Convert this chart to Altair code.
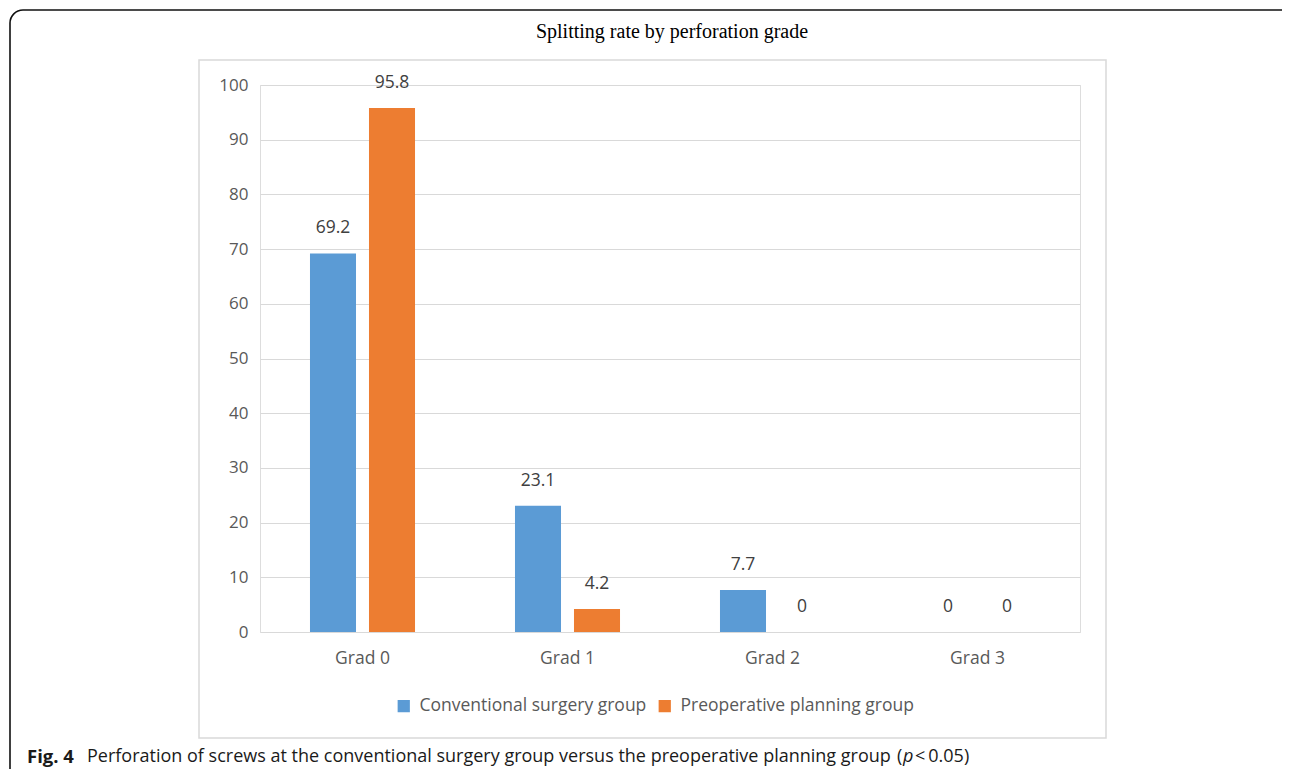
import altair as alt
import pandas as pd

categories = ["Grad 0", "Grad 1", "Grad 2", "Grad 3"]
series_names = ["Conventional surgery group", "Preoperative planning group"]
conventional = [69.2, 23.1, 7.7, 0]
planning = [95.8, 4.2, 0, 0]
colors = ["#5B9BD5", "#ED7D31"]
y_ticks = [0, 10, 20, 30, 40, 50, 60, 70, 80, 90, 100]

title_text = "Splitting rate by perforation grade"
caption_bold = "Fig. 4"
caption_main = "Perforation of screws at the conventional surgery group versus the preoperative planning group"
caption_open = "("
caption_italic = "p"
caption_tail = "<\u20090.05)"

rows = []
for c, v1, v2 in zip(categories, conventional, planning):
    rows.append({"grade": c, "group": series_names[0], "value": v1, "label": f"{v1:g}"})
    rows.append({"grade": c, "group": series_names[1], "value": v2, "label": f"{v2:g}"})
df = pd.DataFrame(rows)
dummy = pd.DataFrame({"d": [0]})

FONT = "Open Sans"
CAP_Y = 672

x_enc = alt.X("grade:N", sort=categories, title=None,
              scale=alt.Scale(paddingInner=0, paddingOuter=0),
              axis=alt.Axis(labelAngle=0, domain=False, ticks=False, labelPadding=17,
                            labelFont=FONT, labelFontSize=17.5, labelColor="#595959"))
xoff_enc = alt.XOffset("group:N", sort=series_names,
                       scale=alt.Scale(paddingInner=0.22, paddingOuter=0.847))
y_enc = alt.Y("value:Q", title=None,
              scale=alt.Scale(domain=[0, 100], nice=False),
              axis=alt.Axis(values=y_ticks, domain=False, ticks=False, labelPadding=12,
                            labelFont=FONT, labelFontSize=17, labelColor="#595959",
                            gridColor="#D9D9D9", gridWidth=1.2))

bars = alt.Chart(df).mark_bar().encode(
    x=x_enc, xOffset=xoff_enc, y=y_enc,
    color=alt.Color("group:N", sort=series_names,
                    scale=alt.Scale(domain=series_names, range=colors),
                    legend=alt.Legend(title=None, orient="none", direction="horizontal",
                                      legendX=135, legendY=612, symbolType="square",
                                      symbolSize=150, symbolStrokeWidth=0,
                                      labelFont=FONT, labelFontSize=17.5, labelColor="#595959",
                                      labelLimit=0, labelOffset=7, columnPadding=9)),
)

labels = alt.Chart(df).mark_text(dy=-25, font=FONT, fontSize=17.5, color="#404040",
                                  baseline="middle").encode(
    x=alt.X("grade:N", sort=categories), xOffset=alt.XOffset("group:N", sort=series_names),
    y=alt.Y("value:Q"), text="label:N",
)

title_mark = alt.Chart(dummy).mark_text(align="center", baseline="middle",
                                        font="Liberation Serif", fontSize=20,
                                        color="#000000").encode(
    x=alt.value(412), y=alt.value(-53), text=alt.value(title_text))

inner_box = alt.Chart(dummy).mark_rect(fill=None, stroke="#D9D9D9", strokeWidth=1.5).encode(
    x=alt.value(-61), x2=alt.value(846), y=alt.value(-25), y2=alt.value(653))

outer_frame = alt.Chart(dummy).mark_rect(fill=None, stroke="#111111", strokeWidth=1.6,
                                          cornerRadius=13).encode(
    x=alt.value(-250), x2=alt.value(1060), y=alt.value(-75), y2=alt.value(720))

cap1 = alt.Chart(dummy).mark_text(align="left", baseline="middle", font=FONT, fontSize=18.5,
                                  fontWeight="bold", color="#1a1a1a").encode(
    x=alt.value(-233), y=alt.value(CAP_Y), text=alt.value(caption_bold))
cap2 = alt.Chart(dummy).mark_text(align="left", baseline="middle", font=FONT, fontSize=18,
                                  color="#1a1a1a").encode(
    x=alt.value(-173), y=alt.value(CAP_Y), text=alt.value(caption_main))
cap_open = alt.Chart(dummy).mark_text(align="left", baseline="middle", font=FONT, fontSize=18,
                                      color="#1a1a1a").encode(
    x=alt.value(637), y=alt.value(CAP_Y), text=alt.value(caption_open))
cap3 = alt.Chart(dummy).mark_text(align="left", baseline="middle", font=FONT, fontSize=18,
                                  fontStyle="italic", color="#1a1a1a").encode(
    x=alt.value(643), y=alt.value(CAP_Y), text=alt.value(caption_italic))
cap4 = alt.Chart(dummy).mark_text(align="left", baseline="middle", font=FONT, fontSize=18,
                                  color="#1a1a1a").encode(
    x=alt.value(655), y=alt.value(CAP_Y), text=alt.value(caption_tail))

chart = alt.layer(outer_frame, inner_box, bars, labels, title_mark,
                  cap1, cap2, cap_open, cap3, cap4).properties(
    width=820, height=547,
    autosize=alt.AutoSizeParams(type="none"),
    padding={"left": 252, "top": 77, "right": 202, "bottom": 137},
).configure_view(stroke=None).configure(background="white")

chart.save("out.html", embed_options={"renderer": "svg", "actions": False})
